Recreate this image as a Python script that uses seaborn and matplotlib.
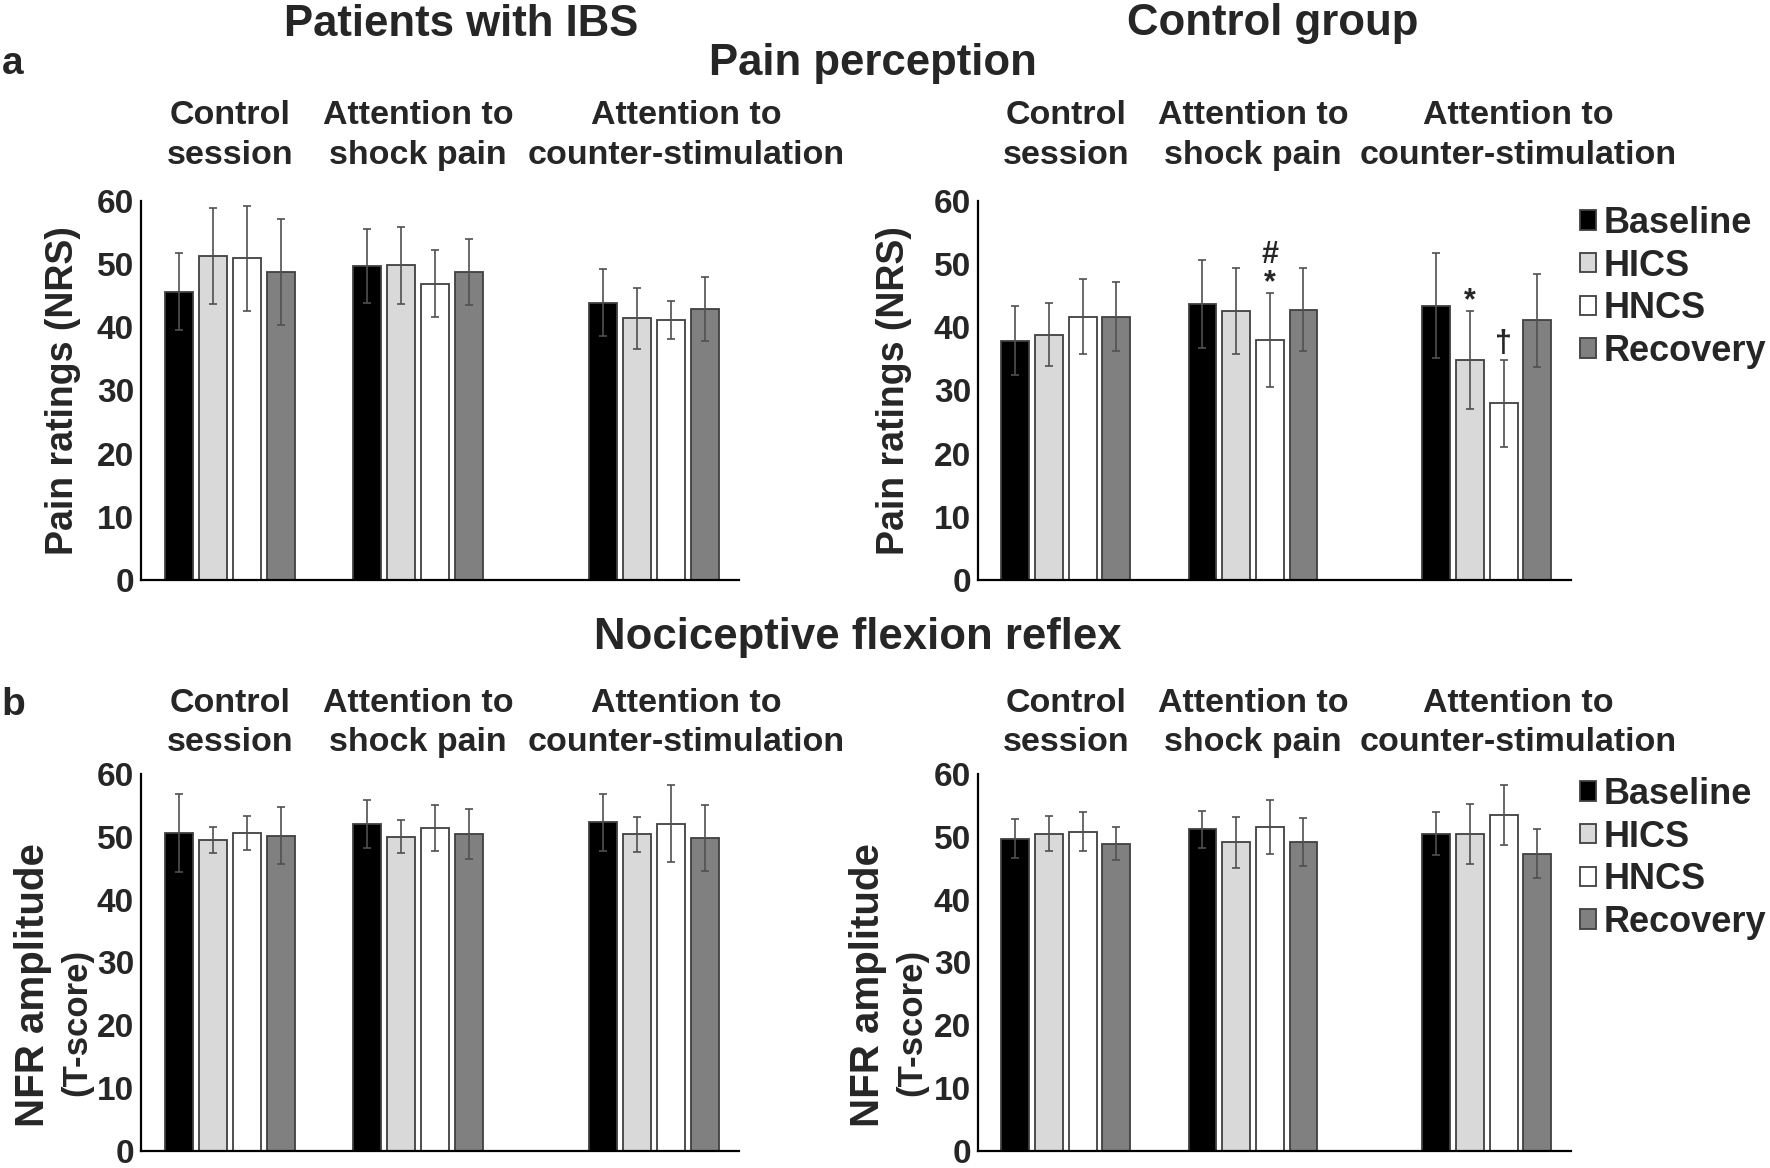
import matplotlib
matplotlib.use("Agg")
import matplotlib.pyplot as plt
from matplotlib.patches import Patch
import numpy as np
import pandas as pd
import seaborn as sns

# values (mean, error)
sessions = ["Control session", "Attention to shock pain", "Attention to counter-stimulation"]
session_labels = ["Control\nsession", "Attention to\nshock pain", "Attention to\ncounter-stimulation"]
conditions = ["Baseline", "HICS", "HNCS", "Recovery"]

ibs_pain_mean = [[45.6, 51.3, 50.9, 48.8], [49.7, 49.8, 46.9, 48.8], [43.9, 41.4, 41.2, 42.9]]
ibs_pain_err = [[6.1, 7.6, 8.3, 8.4], [5.9, 6.1, 5.3, 5.2], [5.3, 4.8, 3.0, 5.0]]
ctrl_pain_mean = [[37.9, 38.8, 41.7, 41.7], [43.7, 42.6, 38.0, 42.8], [43.4, 34.8, 28.0, 41.1]]
ctrl_pain_err = [[5.5, 5.0, 6.0, 5.4], [6.9, 6.8, 7.5, 6.6], [8.3, 7.8, 6.9, 7.4]]
ibs_nfr_mean = [[50.6, 49.5, 50.6, 50.2], [52.1, 50.0, 51.4, 50.4], [52.3, 50.4, 52.1, 49.8]]
ibs_nfr_err = [[6.2, 2.0, 2.7, 4.6], [3.8, 2.6, 3.7, 4.0], [4.5, 2.8, 6.1, 5.3]]
ctrl_nfr_mean = [[49.7, 50.5, 50.8, 48.9], [51.2, 49.1, 51.6, 49.2], [50.5, 50.5, 53.5, 47.3]]
ctrl_nfr_err = [[3.1, 2.8, 3.1, 2.6], [2.9, 4.0, 4.3, 3.8], [3.4, 4.8, 4.8, 3.9]]

# significance marks on the control group pain panel: (session, condition, symbol)
ctrl_pain_marks = [(1, "HNCS", "*"), (1, "HNCS", "#"), (2, "HICS", "*"), (2, "HNCS", "\u2020")]

# layout
session_pos = [0, 1, 2.25]
palette = {"Baseline": "#000000", "HICS": "#d9d9d9", "HNCS": "#ffffff", "Recovery": "#808080"}
narrow = ["Liberation Sans Narrow", "Liberation Sans", "DejaVu Sans"]
wide = ["Liberation Sans", "DejaVu Sans"]

sns.set_style("white")
plt.rcParams["font.family"] = narrow
plt.rcParams["font.weight"] = "bold"

W, H = 1770, 1168
fig = plt.figure(figsize=(W / 100, H / 100), dpi=100)


def fx(px):
    return px / W


def fy(py):
    return 1 - py / H


def make_frame(mean, err):
    rows = []
    for i, s in enumerate(sessions):
        for j, c in enumerate(conditions):
            rows.append({"pos": session_pos[i], "session": s, "condition": c,
                         "value": mean[i][j], "err": err[i][j]})
    return pd.DataFrame(rows)


def draw_panel(rect, mean, err, label_y):
    ax = fig.add_axes(rect)
    df = make_frame(mean, err)
    sns.barplot(data=df, x="pos", y="value", hue="condition", hue_order=conditions,
                palette=palette, native_scale=True, width=0.72, gap=0.17,
                saturation=1, edgecolor="#404040", linewidth=1.3, legend=False, ax=ax)
    for cont, cond in zip(ax.containers, conditions):
        sub = df[df.condition == cond].sort_values("pos")
        xs = [p.get_x() + p.get_width() / 2 for p in cont.patches]
        ax.errorbar(xs, sub["value"], yerr=sub["err"], fmt="none", ecolor="#505050",
                    elinewidth=1.2, capsize=3, capthick=1.2, zorder=5)
    ax.set_xlim(-0.47, 2.70)
    ax.set_ylim(0, 60)
    ax.set_yticks(range(0, 61, 10))
    ax.set_xticks([])
    ax.set_xlabel("")
    ax.set_ylabel("")
    ax.tick_params(axis="y", length=0, pad=5, labelsize=24)
    for t in ax.get_yticklabels():
        t.set_fontweight("bold")
    for side in ["top", "right"]:
        ax.spines[side].set_visible(False)
    for side in ["left", "bottom"]:
        ax.spines[side].set_color("black")
        ax.spines[side].set_linewidth(1.6)
    tx = ax.get_xaxis_transform()
    for lx, lab in zip([0, 1, 2.42], session_labels):
        ax.text(lx, label_y, lab, transform=tx, ha="center", va="center",
                fontsize=24.5, fontweight="bold", linespacing=1.34)
    return ax


ax_a1 = draw_panel([fx(141), fy(580), fx(598), 379 / H], ibs_pain_mean, ibs_pain_err, 1.173)
ax_a2 = draw_panel([fx(978), fy(580), fx(593), 379 / H], ctrl_pain_mean, ctrl_pain_err, 1.173)
ax_b1 = draw_panel([fx(141), fy(1151), fx(598), 377 / H], ibs_nfr_mean, ibs_nfr_err, 1.135)
ax_b2 = draw_panel([fx(978), fy(1151), fx(593), 377 / H], ctrl_nfr_mean, ctrl_nfr_err, 1.135)

# y labels
for ax, xl in [(ax_a1, -0.13), (ax_a2, -0.141)]:
    ax.text(xl, 0.5, "Pain ratings (NRS)", transform=ax.transAxes, rotation=90,
            ha="center", va="center", fontsize=27, fontweight="bold", family=wide)
for ax, x1, x2 in [(ax_b1, -0.18, -0.108), (ax_b2, -0.185, -0.112)]:
    ax.text(x1, 0.44, "NFR amplitude", transform=ax.transAxes, rotation=90,
            ha="center", va="center", fontsize=29, fontweight="bold", family=wide)
    ax.text(x2, 0.34, "(T-score)", transform=ax.transAxes, rotation=90,
            ha="center", va="center", fontsize=25, fontweight="bold", family=wide)

# significance marks
mark_offset = {"*": 1.5, "#": 5.9, "\u2020": 2.4}
for si, cond, sym in ctrl_pain_marks:
    j = conditions.index(cond)
    p = ax_a2.containers[j].patches[si]
    top = ctrl_pain_mean[si][j] + ctrl_pain_err[si][j]
    ax_a2.text(p.get_x() + p.get_width() / 2, top + mark_offset[sym], sym,
               ha="center", va="center", fontsize=22, fontweight="bold", family=wide)

# legends
handles = [Patch(facecolor=palette[c], edgecolor="#404040", linewidth=1.3) for c in conditions]
for top in [206, 777]:
    fig.legend(handles, conditions, loc="upper left", bbox_to_anchor=(fx(1580), fy(top)),
               frameon=False, handlelength=0.45, handleheight=0.45, handletextpad=0.2,
               labelspacing=0.21, borderpad=0, borderaxespad=0,
               prop={"family": wide, "weight": "bold", "size": 26})

# headers
fig.text(fx(461), fy(24), "Patients with IBS", ha="center", va="center", fontsize=31.5, fontweight="bold")
fig.text(fx(1273), fy(24), "Control group", ha="center", va="center", fontsize=31.5, fontweight="bold")
fig.text(fx(873), fy(63), "Pain perception", ha="center", va="center", fontsize=31.5, fontweight="bold")
fig.text(fx(858), fy(638), "Nociceptive flexion reflex", ha="center", va="center", fontsize=31.5, fontweight="bold")
fig.text(fx(13), fy(64), "a", ha="center", va="center", fontsize=28, fontweight="bold")
fig.text(fx(13), fy(705), "b", ha="center", va="center", fontsize=28, fontweight="bold")

fig.savefig("out.png", dpi=100, facecolor="white")
